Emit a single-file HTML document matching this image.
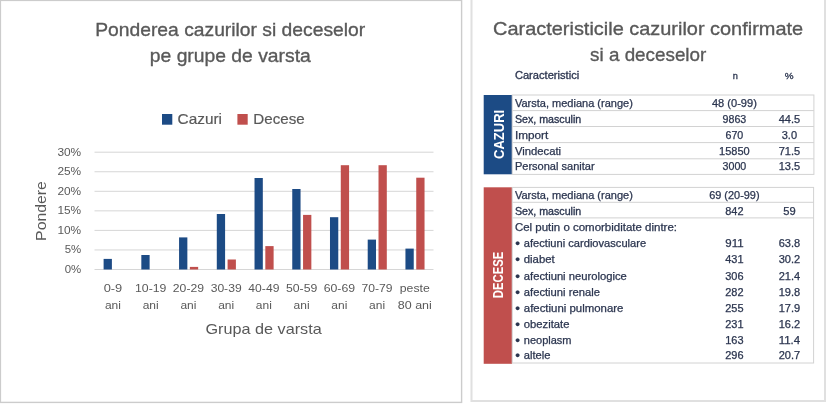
<!DOCTYPE html>
<html lang="ro"><head><meta charset="utf-8"><title>Ponderea cazurilor si deceselor</title>
<style>
html,body{margin:0;padding:0;background:#fff;}
svg{display:block;font-family:'Liberation Sans', sans-serif;}
</style></head><body>
<svg width="826" height="405" viewBox="0 0 826 405">
<defs><filter id="soft" x="0" y="0" width="826" height="405" filterUnits="userSpaceOnUse"><feGaussianBlur stdDeviation="0.42"/></filter></defs>
<rect width="826" height="405" fill="#fff"/>
<g filter="url(#soft)">
<rect x="0.4" y="0.4" width="461.2" height="402" fill="#fff" stroke="#cccccc" stroke-width="1.4"/>
<path d="M471.5 -2 V401 H825 V-2" fill="#fff" stroke="#e0e0e0" stroke-width="2"/>
<text x="230.2" y="35.6" font-size="19" fill="#595959" text-anchor="middle" textLength="270" lengthAdjust="spacingAndGlyphs" stroke="#595959" stroke-width="0.35">Ponderea cazurilor si deceselor</text>
<text x="230.3" y="62" font-size="19" fill="#595959" text-anchor="middle" textLength="161" lengthAdjust="spacingAndGlyphs" stroke="#595959" stroke-width="0.35">pe grupe de varsta</text>
<rect x="162" y="114" width="10.3" height="10.7" fill="#1f4b85"/>
<text x="177.6" y="123.5" font-size="15" fill="#595959" textLength="44.4" lengthAdjust="spacingAndGlyphs" stroke="#595959" stroke-width="0.2">Cazuri</text>
<rect x="237.4" y="114" width="10.3" height="10.7" fill="#C0504D"/>
<text x="253.3" y="123.5" font-size="15" fill="#595959" textLength="51.4" lengthAdjust="spacingAndGlyphs" stroke="#595959" stroke-width="0.2">Decese</text>
<line x1="94.5" y1="269.5" x2="433.5" y2="269.5" stroke="#d6d6d6" stroke-width="1"/>
<text x="81.2" y="272.9" font-size="10.8" fill="#595959" text-anchor="end" textLength="16.5" lengthAdjust="spacingAndGlyphs">0%</text>
<line x1="94.5" y1="249.95" x2="433.5" y2="249.95" stroke="#d6d6d6" stroke-width="1"/>
<text x="81.2" y="253.35" font-size="10.8" fill="#595959" text-anchor="end" textLength="16.5" lengthAdjust="spacingAndGlyphs">5%</text>
<line x1="94.5" y1="230.4" x2="433.5" y2="230.4" stroke="#d6d6d6" stroke-width="1"/>
<text x="81.2" y="233.8" font-size="10.8" fill="#595959" text-anchor="end" textLength="23.8" lengthAdjust="spacingAndGlyphs">10%</text>
<line x1="94.5" y1="210.85" x2="433.5" y2="210.85" stroke="#d6d6d6" stroke-width="1"/>
<text x="81.2" y="214.25" font-size="10.8" fill="#595959" text-anchor="end" textLength="23.8" lengthAdjust="spacingAndGlyphs">15%</text>
<line x1="94.5" y1="191.3" x2="433.5" y2="191.3" stroke="#d6d6d6" stroke-width="1"/>
<text x="81.2" y="194.7" font-size="10.8" fill="#595959" text-anchor="end" textLength="23.8" lengthAdjust="spacingAndGlyphs">20%</text>
<line x1="94.5" y1="171.75" x2="433.5" y2="171.75" stroke="#d6d6d6" stroke-width="1"/>
<text x="81.2" y="175.15" font-size="10.8" fill="#595959" text-anchor="end" textLength="23.8" lengthAdjust="spacingAndGlyphs">25%</text>
<line x1="94.5" y1="152.2" x2="433.5" y2="152.2" stroke="#d6d6d6" stroke-width="1"/>
<text x="81.2" y="155.6" font-size="10.8" fill="#595959" text-anchor="end" textLength="23.8" lengthAdjust="spacingAndGlyphs">30%</text>
<rect x="103.6" y="258.9" width="8.3" height="10.6" fill="#1f4b85"/>
<rect x="141.33" y="255.0" width="8.3" height="14.5" fill="#1f4b85"/>
<rect x="179.06" y="237.4" width="8.3" height="32.1" fill="#1f4b85"/>
<rect x="189.86" y="266.9" width="8.3" height="2.6" fill="#C0504D"/>
<rect x="216.79" y="214.0" width="8.3" height="55.5" fill="#1f4b85"/>
<rect x="227.59" y="259.5" width="8.3" height="10.0" fill="#C0504D"/>
<rect x="254.52" y="178.0" width="8.3" height="91.5" fill="#1f4b85"/>
<rect x="265.32" y="246.1" width="8.3" height="23.4" fill="#C0504D"/>
<rect x="292.25" y="189.0" width="8.3" height="80.5" fill="#1f4b85"/>
<rect x="303.05" y="214.9" width="8.3" height="54.6" fill="#C0504D"/>
<rect x="329.98" y="217.2" width="8.3" height="52.3" fill="#1f4b85"/>
<rect x="340.78" y="165.2" width="8.3" height="104.3" fill="#C0504D"/>
<rect x="367.71" y="239.6" width="8.3" height="29.9" fill="#1f4b85"/>
<rect x="378.51" y="165.2" width="8.3" height="104.3" fill="#C0504D"/>
<rect x="405.44" y="248.6" width="8.3" height="20.9" fill="#1f4b85"/>
<rect x="416.24" y="177.7" width="8.3" height="91.8" fill="#C0504D"/>
<text x="112.96" y="292.4" font-size="11" fill="#595959" text-anchor="middle" textLength="18.6" lengthAdjust="spacingAndGlyphs">0-9</text>
<text x="112.96" y="308.6" font-size="11.3" fill="#595959" text-anchor="middle" textLength="16" lengthAdjust="spacingAndGlyphs">ani</text>
<text x="150.69" y="292.4" font-size="11" fill="#595959" text-anchor="middle" textLength="31.4" lengthAdjust="spacingAndGlyphs">10-19</text>
<text x="150.69" y="308.6" font-size="11.3" fill="#595959" text-anchor="middle" textLength="16" lengthAdjust="spacingAndGlyphs">ani</text>
<text x="188.42" y="292.4" font-size="11" fill="#595959" text-anchor="middle" textLength="31.2" lengthAdjust="spacingAndGlyphs">20-29</text>
<text x="188.42" y="308.6" font-size="11.3" fill="#595959" text-anchor="middle" textLength="16" lengthAdjust="spacingAndGlyphs">ani</text>
<text x="226.15" y="292.4" font-size="11" fill="#595959" text-anchor="middle" textLength="31" lengthAdjust="spacingAndGlyphs">30-39</text>
<text x="226.15" y="308.6" font-size="11.3" fill="#595959" text-anchor="middle" textLength="16" lengthAdjust="spacingAndGlyphs">ani</text>
<text x="263.88" y="292.4" font-size="11" fill="#595959" text-anchor="middle" textLength="31" lengthAdjust="spacingAndGlyphs">40-49</text>
<text x="263.88" y="308.6" font-size="11.3" fill="#595959" text-anchor="middle" textLength="16" lengthAdjust="spacingAndGlyphs">ani</text>
<text x="301.62" y="292.4" font-size="11" fill="#595959" text-anchor="middle" textLength="31.4" lengthAdjust="spacingAndGlyphs">50-59</text>
<text x="301.62" y="308.6" font-size="11.3" fill="#595959" text-anchor="middle" textLength="16" lengthAdjust="spacingAndGlyphs">ani</text>
<text x="339.35" y="292.4" font-size="11" fill="#595959" text-anchor="middle" textLength="31.4" lengthAdjust="spacingAndGlyphs">60-69</text>
<text x="339.35" y="308.6" font-size="11.3" fill="#595959" text-anchor="middle" textLength="16" lengthAdjust="spacingAndGlyphs">ani</text>
<text x="377.07" y="292.4" font-size="11" fill="#595959" text-anchor="middle" textLength="31" lengthAdjust="spacingAndGlyphs">70-79</text>
<text x="377.07" y="308.6" font-size="11.3" fill="#595959" text-anchor="middle" textLength="16" lengthAdjust="spacingAndGlyphs">ani</text>
<text x="414.81" y="292.4" font-size="11" fill="#595959" text-anchor="middle" textLength="30" lengthAdjust="spacingAndGlyphs">peste</text>
<text x="414.81" y="308.6" font-size="11.3" fill="#595959" text-anchor="middle" textLength="34" lengthAdjust="spacingAndGlyphs">80 ani</text>
<text x="263.6" y="333.6" font-size="14.5" fill="#595959" text-anchor="middle" textLength="116.2" lengthAdjust="spacingAndGlyphs">Grupa de varsta</text>
<text transform="translate(45.9 211) rotate(-90)" font-size="14.5" fill="#595959" text-anchor="middle" textLength="59.8" lengthAdjust="spacingAndGlyphs">Pondere</text>
<text x="648.1" y="34.6" font-size="19" fill="#595959" text-anchor="middle" textLength="310" lengthAdjust="spacingAndGlyphs" stroke="#595959" stroke-width="0.35">Caracteristicile cazurilor confirmate</text>
<text x="648.2" y="61.1" font-size="19" fill="#595959" text-anchor="middle" textLength="116.2" lengthAdjust="spacingAndGlyphs" stroke="#595959" stroke-width="0.35">si a deceselor</text>
<text x="514.9" y="79" font-size="10" fill="#2c3650" textLength="64.3" lengthAdjust="spacingAndGlyphs" stroke="#2c3650" stroke-width="0.3">Caracteristici</text>
<text x="735.2" y="79" font-size="9.2" fill="#2c3650" text-anchor="middle" stroke="#2c3650" stroke-width="0.3">n</text>
<text x="789.1" y="79" font-size="9" fill="#2c3650" text-anchor="middle" textLength="8.8" lengthAdjust="spacingAndGlyphs" stroke="#2c3650" stroke-width="0.3">%</text>
<rect x="483.7" y="95" width="28.4" height="79.3" fill="#1f4b85"/>
<rect x="512.2" y="95" width="301.7" height="79.4" fill="none" stroke="#d2d2d2" stroke-width="1"/>
<line x1="512.2" y1="110.6" x2="813.9" y2="110.6" stroke="#d2d2d2" stroke-width="1"/>
<line x1="512.2" y1="126.5" x2="813.9" y2="126.5" stroke="#d2d2d2" stroke-width="1"/>
<line x1="512.2" y1="142.6" x2="813.9" y2="142.6" stroke="#d2d2d2" stroke-width="1"/>
<line x1="512.2" y1="158.8" x2="813.9" y2="158.8" stroke="#d2d2d2" stroke-width="1"/>
<text transform="translate(503.6 134.4) rotate(-90)" font-size="15.3" font-weight="bold" fill="#fff" text-anchor="middle" textLength="49.3" lengthAdjust="spacingAndGlyphs">CAZURI</text>
<text x="514.9" y="106.7" font-size="10.1" fill="#2c3650" textLength="118" lengthAdjust="spacingAndGlyphs" stroke="#2c3650" stroke-width="0.25">Varsta, mediana (range)</text>
<text x="734.4" y="106.7" font-size="10.0" fill="#2c3650" text-anchor="middle" textLength="44.9" lengthAdjust="spacingAndGlyphs" stroke="#2c3650" stroke-width="0.25">48 (0-99)</text>
<text x="514.9" y="122.6" font-size="10.1" fill="#2c3650" textLength="66.4" lengthAdjust="spacingAndGlyphs" stroke="#2c3650" stroke-width="0.33">Sex, masculin</text>
<text x="734.4" y="122.6" font-size="10.0" fill="#2c3650" text-anchor="middle" textLength="23.7" lengthAdjust="spacingAndGlyphs" stroke="#2c3650" stroke-width="0.25">9863</text>
<text x="789.4" y="122.6" font-size="10.0" fill="#2c3650" text-anchor="middle" textLength="21.5" lengthAdjust="spacingAndGlyphs" stroke="#2c3650" stroke-width="0.25">44.5</text>
<text x="514.9" y="139.1" font-size="10.1" fill="#2c3650" textLength="33.3" lengthAdjust="spacingAndGlyphs" stroke="#2c3650" stroke-width="0.25">Import</text>
<text x="734.4" y="139.1" font-size="10.0" fill="#2c3650" text-anchor="middle" textLength="17.8" lengthAdjust="spacingAndGlyphs" stroke="#2c3650" stroke-width="0.25">670</text>
<text x="789.4" y="139.1" font-size="10.0" fill="#2c3650" text-anchor="middle" textLength="15.3" lengthAdjust="spacingAndGlyphs" stroke="#2c3650" stroke-width="0.25">3.0</text>
<text x="514.9" y="154.6" font-size="10.1" fill="#2c3650" textLength="46.2" lengthAdjust="spacingAndGlyphs" stroke="#2c3650" stroke-width="0.25">Vindecati</text>
<text x="734.4" y="154.6" font-size="10.0" fill="#2c3650" text-anchor="middle" textLength="30.6" lengthAdjust="spacingAndGlyphs" stroke="#2c3650" stroke-width="0.25">15850</text>
<text x="789.4" y="154.6" font-size="10.0" fill="#2c3650" text-anchor="middle" textLength="21.5" lengthAdjust="spacingAndGlyphs" stroke="#2c3650" stroke-width="0.25">71.5</text>
<text x="514.9" y="170.1" font-size="10.1" fill="#2c3650" textLength="79.8" lengthAdjust="spacingAndGlyphs" stroke="#2c3650" stroke-width="0.25">Personal sanitar</text>
<text x="734.4" y="170.1" font-size="10.0" fill="#2c3650" text-anchor="middle" textLength="23.7" lengthAdjust="spacingAndGlyphs" stroke="#2c3650" stroke-width="0.25">3000</text>
<text x="789.4" y="170.1" font-size="10.0" fill="#2c3650" text-anchor="middle" textLength="21.5" lengthAdjust="spacingAndGlyphs" stroke="#2c3650" stroke-width="0.25">13.5</text>
<rect x="483.7" y="187.3" width="28.4" height="176.5" fill="#C0504D"/>
<rect x="512.2" y="187.4" width="301.4" height="175.6" fill="none" stroke="#d2d2d2" stroke-width="1"/>
<line x1="512.2" y1="202.3" x2="813.9" y2="202.3" stroke="#d2d2d2" stroke-width="1"/>
<line x1="512.2" y1="217.9" x2="813.9" y2="217.9" stroke="#d2d2d2" stroke-width="1"/>
<text transform="translate(503.3 275) rotate(-90)" font-size="15.3" font-weight="bold" fill="#fff" text-anchor="middle" textLength="46.4" lengthAdjust="spacingAndGlyphs">DECESE</text>
<text x="514.9" y="199.0" font-size="10.1" fill="#2c3650" textLength="118" lengthAdjust="spacingAndGlyphs" stroke="#2c3650" stroke-width="0.25">Varsta, mediana (range)</text>
<text x="734.4" y="199.0" font-size="10.0" fill="#2c3650" text-anchor="middle" textLength="50.4" lengthAdjust="spacingAndGlyphs" stroke="#2c3650" stroke-width="0.25">69 (20-99)</text>
<text x="514.9" y="214.8" font-size="10.1" fill="#2c3650" textLength="66.4" lengthAdjust="spacingAndGlyphs" stroke="#2c3650" stroke-width="0.33">Sex, masculin</text>
<text x="734.4" y="214.8" font-size="10.0" fill="#2c3650" text-anchor="middle" textLength="18.3" lengthAdjust="spacingAndGlyphs" stroke="#2c3650" stroke-width="0.25">842</text>
<text x="789.4" y="214.8" font-size="10.0" fill="#2c3650" text-anchor="middle" textLength="12.4" lengthAdjust="spacingAndGlyphs" stroke="#2c3650" stroke-width="0.25">59</text>
<text x="514.9" y="230.8" font-size="10.1" fill="#2c3650" textLength="162.1" lengthAdjust="spacingAndGlyphs" stroke="#2c3650" stroke-width="0.25">Cel putin o comorbiditate dintre:</text>
<text x="515.3" y="247" font-size="10.1" fill="#2c3650" stroke="#2c3650" stroke-width="0.25"><tspan font-size="13.5" dy="1.1">•</tspan><tspan x="523.8" dy="-1.1" textLength="122.3" lengthAdjust="spacingAndGlyphs">afectiuni cardiovasculare</tspan></text>
<text x="734.4" y="247" font-size="10.0" fill="#2c3650" text-anchor="middle" textLength="18.3" lengthAdjust="spacingAndGlyphs" stroke="#2c3650" stroke-width="0.25">911</text>
<text x="789.4" y="247" font-size="10.0" fill="#2c3650" text-anchor="middle" textLength="21.5" lengthAdjust="spacingAndGlyphs" stroke="#2c3650" stroke-width="0.25">63.8</text>
<text x="515.3" y="263" font-size="10.1" fill="#2c3650" stroke="#2c3650" stroke-width="0.25"><tspan font-size="13.5" dy="1.1">•</tspan><tspan x="523.8" dy="-1.1" textLength="30.9" lengthAdjust="spacingAndGlyphs">diabet</tspan></text>
<text x="734.4" y="263" font-size="10.0" fill="#2c3650" text-anchor="middle" textLength="18.3" lengthAdjust="spacingAndGlyphs" stroke="#2c3650" stroke-width="0.25">431</text>
<text x="789.4" y="263" font-size="10.0" fill="#2c3650" text-anchor="middle" textLength="21.5" lengthAdjust="spacingAndGlyphs" stroke="#2c3650" stroke-width="0.25">30.2</text>
<text x="515.3" y="279.5" font-size="10.1" fill="#2c3650" stroke="#2c3650" stroke-width="0.25"><tspan font-size="13.5" dy="1.1">•</tspan><tspan x="523.8" dy="-1.1" textLength="103.0" lengthAdjust="spacingAndGlyphs">afectiuni neurologice</tspan></text>
<text x="734.4" y="279.5" font-size="10.0" fill="#2c3650" text-anchor="middle" textLength="18.3" lengthAdjust="spacingAndGlyphs" stroke="#2c3650" stroke-width="0.25">306</text>
<text x="789.4" y="279.5" font-size="10.0" fill="#2c3650" text-anchor="middle" textLength="21.5" lengthAdjust="spacingAndGlyphs" stroke="#2c3650" stroke-width="0.25">21.4</text>
<text x="515.3" y="295.5" font-size="10.1" fill="#2c3650" stroke="#2c3650" stroke-width="0.25"><tspan font-size="13.5" dy="1.1">•</tspan><tspan x="523.8" dy="-1.1" textLength="76.1" lengthAdjust="spacingAndGlyphs">afectiuni renale</tspan></text>
<text x="734.4" y="295.5" font-size="10.0" fill="#2c3650" text-anchor="middle" textLength="18.3" lengthAdjust="spacingAndGlyphs" stroke="#2c3650" stroke-width="0.25">282</text>
<text x="789.4" y="295.5" font-size="10.0" fill="#2c3650" text-anchor="middle" textLength="21.5" lengthAdjust="spacingAndGlyphs" stroke="#2c3650" stroke-width="0.25">19.8</text>
<text x="515.3" y="311.5" font-size="10.1" fill="#2c3650" stroke="#2c3650" stroke-width="0.25"><tspan font-size="13.5" dy="1.1">•</tspan><tspan x="523.8" dy="-1.1" textLength="99.6" lengthAdjust="spacingAndGlyphs">afectiuni pulmonare</tspan></text>
<text x="734.4" y="311.5" font-size="10.0" fill="#2c3650" text-anchor="middle" textLength="18.3" lengthAdjust="spacingAndGlyphs" stroke="#2c3650" stroke-width="0.25">255</text>
<text x="789.4" y="311.5" font-size="10.0" fill="#2c3650" text-anchor="middle" textLength="21.5" lengthAdjust="spacingAndGlyphs" stroke="#2c3650" stroke-width="0.25">17.9</text>
<text x="515.3" y="327.8" font-size="10.1" fill="#2c3650" stroke="#2c3650" stroke-width="0.25"><tspan font-size="13.5" dy="1.1">•</tspan><tspan x="523.8" dy="-1.1" textLength="45.7" lengthAdjust="spacingAndGlyphs">obezitate</tspan></text>
<text x="734.4" y="327.8" font-size="10.0" fill="#2c3650" text-anchor="middle" textLength="18.3" lengthAdjust="spacingAndGlyphs" stroke="#2c3650" stroke-width="0.25">231</text>
<text x="789.4" y="327.8" font-size="10.0" fill="#2c3650" text-anchor="middle" textLength="21.5" lengthAdjust="spacingAndGlyphs" stroke="#2c3650" stroke-width="0.25">16.2</text>
<text x="515.3" y="343.6" font-size="10.1" fill="#2c3650" stroke="#2c3650" stroke-width="0.25"><tspan font-size="13.5" dy="1.1">•</tspan><tspan x="523.8" dy="-1.1" textLength="47.7" lengthAdjust="spacingAndGlyphs">neoplasm</tspan></text>
<text x="734.4" y="343.6" font-size="10.0" fill="#2c3650" text-anchor="middle" textLength="18.3" lengthAdjust="spacingAndGlyphs" stroke="#2c3650" stroke-width="0.25">163</text>
<text x="789.4" y="343.6" font-size="10.0" fill="#2c3650" text-anchor="middle" textLength="21.5" lengthAdjust="spacingAndGlyphs" stroke="#2c3650" stroke-width="0.25">11.4</text>
<text x="515.3" y="359.3" font-size="10.1" fill="#2c3650" stroke="#2c3650" stroke-width="0.25"><tspan font-size="13.5" dy="1.1">•</tspan><tspan x="523.8" dy="-1.1" textLength="26.7" lengthAdjust="spacingAndGlyphs">altele</tspan></text>
<text x="734.4" y="359.3" font-size="10.0" fill="#2c3650" text-anchor="middle" textLength="18.3" lengthAdjust="spacingAndGlyphs" stroke="#2c3650" stroke-width="0.25">296</text>
<text x="789.4" y="359.3" font-size="10.0" fill="#2c3650" text-anchor="middle" textLength="21.5" lengthAdjust="spacingAndGlyphs" stroke="#2c3650" stroke-width="0.25">20.7</text>
</g>
</svg>
</body></html>
